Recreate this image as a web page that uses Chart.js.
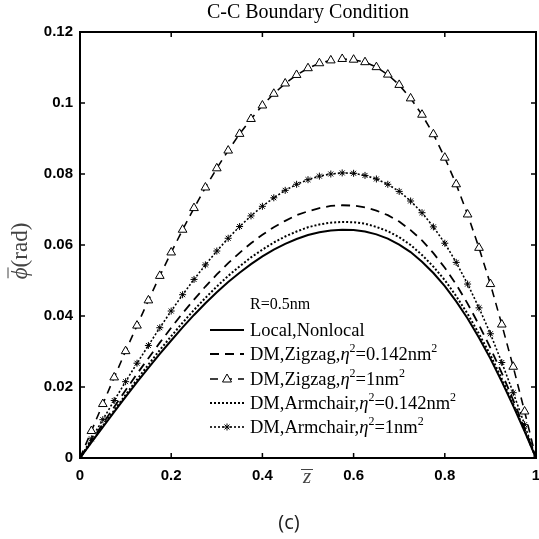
<!DOCTYPE html>
<html>
<head>
<meta charset="utf-8">
<script src="https://cdn.jsdelivr.net/npm/chart.js@4.4.0/dist/chart.umd.min.js"></script>
<style>
  html, body { margin: 0; padding: 0; background: #fff; }
</style>
</head>
<body>
<canvas id="chart" width="539" height="539"></canvas>
<script>
// z positions along the beam
const zValues = [0, 0.025, 0.05, 0.075, 0.1, 0.125, 0.15, 0.175, 0.2, 0.225, 0.25, 0.275, 0.3, 0.325, 0.35, 0.375,
  0.4, 0.425, 0.45, 0.475, 0.5, 0.525, 0.55, 0.575, 0.6, 0.625, 0.65, 0.675, 0.7, 0.725, 0.75, 0.775,
  0.8, 0.825, 0.85, 0.875, 0.9, 0.925, 0.95, 0.975, 1];

// rotation (rad)
const localNonlocal = [0, 0.0044, 0.0087, 0.0130, 0.0172, 0.0214, 0.0254, 0.0293, 0.0331, 0.0368, 0.0403, 0.0436, 0.0467, 0.0496, 0.0522, 0.0546,
  0.0568, 0.0587, 0.0603, 0.0617, 0.0628, 0.0636, 0.0641, 0.0643, 0.0642, 0.0638, 0.0630, 0.0618, 0.0601, 0.0580, 0.0553, 0.0521,
  0.0484, 0.0441, 0.0393, 0.0339, 0.0280, 0.0215, 0.0147, 0.0075, 0];
const zigzagSmall = [0, 0.0048, 0.0096, 0.0144, 0.0191, 0.0237, 0.0281, 0.0325, 0.0367, 0.0408, 0.0446, 0.0483, 0.0517, 0.0549, 0.0578, 0.0605,
  0.0629, 0.0650, 0.0668, 0.0684, 0.0695, 0.0704, 0.0710, 0.0712, 0.0711, 0.0706, 0.0697, 0.0684, 0.0666, 0.0642, 0.0613, 0.0577,
  0.0536, 0.0489, 0.0435, 0.0375, 0.0310, 0.0239, 0.0163, 0.0083, 0];
const zigzagLarge = [0, 0.0076, 0.0152, 0.0227, 0.0301, 0.0373, 0.0444, 0.0513, 0.0579, 0.0643, 0.0704, 0.0762, 0.0816, 0.0866, 0.0913, 0.0955,
  0.0993, 0.1026, 0.1055, 0.1079, 0.1098, 0.1112, 0.1120, 0.1124, 0.1122, 0.1115, 0.1101, 0.1080, 0.1051, 0.1013, 0.0967, 0.0912,
  0.0846, 0.0771, 0.0686, 0.0592, 0.0490, 0.0376, 0.0257, 0.0131, 0];
const armchairSmall = [0, 0.0045, 0.0090, 0.0134, 0.0178, 0.0221, 0.0263, 0.0304, 0.0343, 0.0381, 0.0417, 0.0451, 0.0483, 0.0513, 0.0540, 0.0565,
  0.0587, 0.0607, 0.0624, 0.0638, 0.0650, 0.0658, 0.0663, 0.0665, 0.0664, 0.0660, 0.0651, 0.0639, 0.0622, 0.0600, 0.0572, 0.0539,
  0.0501, 0.0456, 0.0406, 0.0350, 0.0290, 0.0223, 0.0152, 0.0078, 0];
const armchairLarge = [0, 0.0054, 0.0108, 0.0162, 0.0215, 0.0267, 0.0317, 0.0367, 0.0414, 0.0460, 0.0503, 0.0544, 0.0583, 0.0619, 0.0652, 0.0682,
  0.0709, 0.0733, 0.0754, 0.0771, 0.0784, 0.0794, 0.0800, 0.0803, 0.0802, 0.0796, 0.0786, 0.0771, 0.0751, 0.0724, 0.0691, 0.0651,
  0.0605, 0.0551, 0.0490, 0.0423, 0.0350, 0.0269, 0.0184, 0.0094, 0];

const xTicks = [0, 0.2, 0.4, 0.6, 0.8, 1];
const yTicks = [0, 0.02, 0.04, 0.06, 0.08, 0.1, 0.12];

const titleText = "C-C Boundary Condition";
const legendHeader = "R=0.5nm";
const legendLabels = [
  [{ t: "Local,Nonlocal" }],
  [{ t: "DM,Zigzag," }, { t: "\u03B7", i: true }, { t: "2", sup: true }, { t: "=0.142nm" }, { t: "2", sup: true }],
  [{ t: "DM,Zigzag," }, { t: "\u03B7", i: true }, { t: "2", sup: true }, { t: "=1nm" }, { t: "2", sup: true }],
  [{ t: "DM,Armchair," }, { t: "\u03B7", i: true }, { t: "2", sup: true }, { t: "=0.142nm" }, { t: "2", sup: true }],
  [{ t: "DM,Armchair," }, { t: "\u03B7", i: true }, { t: "2", sup: true }, { t: "=1nm" }, { t: "2", sup: true }]
];

const SERIF = "'Liberation Serif', 'DejaVu Serif', serif";

function toPoints(vals) {
  return zValues.map((z, i) => ({ x: z, y: vals[i] }));
}

function drawRich(ctx, parts, x, y, size) {
  let cx = x;
  parts.forEach((p) => {
    const fs = p.sup ? Math.round(size * 0.66) : size;
    ctx.font = (p.i ? "italic " : "") + fs + "px " + SERIF;
    const dy = p.sup ? -size * 0.42 : 0;
    ctx.fillText(p.t, cx, y + dy);
    cx += ctx.measureText(p.t).width;
  });
}

function drawMarker(ctx, style, x, y) {
  ctx.save();
  ctx.setLineDash([]);
  ctx.lineWidth = 1;
  ctx.strokeStyle = "#000";
  if (style === "triangle") {
    const r = 5;
    ctx.beginPath();
    ctx.moveTo(x, y - r);
    ctx.lineTo(x + r * 0.9, y + r * 0.6);
    ctx.lineTo(x - r * 0.9, y + r * 0.6);
    ctx.closePath();
    ctx.fillStyle = "#fff";
    ctx.fill();
    ctx.stroke();
  } else if (style === "star") {
    const r = 3.5;
    ctx.beginPath();
    for (let k = 0; k < 4; k++) {
      const a = (k * Math.PI) / 4;
      ctx.moveTo(x - r * Math.cos(a), y - r * Math.sin(a));
      ctx.lineTo(x + r * Math.cos(a), y + r * Math.sin(a));
    }
    ctx.stroke();
  }
  ctx.restore();
}

const decorations = {
  id: "decorations",
  afterDraw(chart) {
    const { ctx, chartArea: a, scales } = chart;
    ctx.save();

    // frame
    ctx.strokeStyle = "#000";
    ctx.lineWidth = 2;
    ctx.setLineDash([]);
    ctx.strokeRect(a.left, a.top, a.right - a.left, a.bottom - a.top);

    // inward ticks on all four sides
    ctx.lineWidth = 1.5;
    ctx.beginPath();
    xTicks.forEach((v) => {
      const px = scales.x.getPixelForValue(v);
      ctx.moveTo(px, a.bottom);
      ctx.lineTo(px, a.bottom - 5);
      ctx.moveTo(px, a.top);
      ctx.lineTo(px, a.top + 5);
    });
    yTicks.forEach((v) => {
      const py = scales.y.getPixelForValue(v);
      ctx.moveTo(a.left, py);
      ctx.lineTo(a.left + 5, py);
      ctx.moveTo(a.right, py);
      ctx.lineTo(a.right - 5, py);
    });
    ctx.stroke();

    // title
    ctx.fillStyle = "#000";
    ctx.font = "20px " + SERIF;
    ctx.textAlign = "center";
    ctx.textBaseline = "alphabetic";
    ctx.fillText(titleText, (a.left + a.right) / 2, 18);

    // x axis label (z with bar)
    ctx.fillStyle = "#444";
    ctx.strokeStyle = "#444";
    ctx.font = "italic 21px " + SERIF;
    ctx.textAlign = "center";
    ctx.fillText("z", 307, 483);
    ctx.lineWidth = 1;
    ctx.beginPath();
    ctx.moveTo(301, 469.5);
    ctx.lineTo(313, 469.5);
    ctx.stroke();

    // y axis label (phi with bar)(rad)
    ctx.save();
    ctx.translate(27, 251);
    ctx.rotate(-Math.PI / 2);
    ctx.textAlign = "left";
    ctx.font = "italic 23px " + SERIF;
    const phiW = ctx.measureText("\u03D5").width;
    ctx.font = "23px " + SERIF;
    const radW = ctx.measureText("(rad)").width;
    const startX = -(phiW + radW) / 2;
    ctx.font = "italic 23px " + SERIF;
    ctx.fillText("\u03D5", startX, 0);
    ctx.beginPath();
    ctx.moveTo(startX + 1, -19);
    ctx.lineTo(startX + phiW, -19);
    ctx.stroke();
    ctx.font = "23px " + SERIF;
    ctx.fillText("(rad)", startX + phiW, 0);
    ctx.restore();

    // panel caption
    ctx.fillStyle = "#222";
    ctx.font = "20px 'Open Sans', 'Liberation Sans', sans-serif";
    ctx.textAlign = "center";
    ctx.fillText("(c)", 289, 529);

    // legend
    ctx.fillStyle = "#000";
    ctx.textAlign = "left";
    ctx.font = "16px " + SERIF;
    ctx.fillText(legendHeader, 250, 309);
    const rowBase = [336, 360, 385, 409, 433];
    chart.data.datasets.forEach((ds, i) => {
      const b = rowBase[i];
      const ly = b - 6;
      ctx.save();
      ctx.strokeStyle = "#000";
      ctx.lineWidth = ds.borderWidth;
      ctx.setLineDash(ds.borderDash || []);
      ctx.beginPath();
      ctx.moveTo(210, ly);
      ctx.lineTo(244, ly);
      ctx.stroke();
      ctx.restore();
      if (ds.pointRadius > 0) drawMarker(ctx, ds.pointStyle, 227, ly);
      ctx.fillStyle = "#000";
      drawRich(ctx, legendLabels[i], 250, b, 18.5);
    });

    ctx.restore();
  }
};

const ctx = document.getElementById("chart").getContext("2d");

new Chart(ctx, {
  type: "line",
  data: {
    datasets: [
      {
        label: "Local,Nonlocal",
        data: toPoints(localNonlocal),
        borderColor: "#000",
        borderWidth: 2,
        pointRadius: 0
      },
      {
        label: "DM,Zigzag,0.142",
        data: toPoints(zigzagSmall),
        borderColor: "#000",
        borderWidth: 1.8,
        borderDash: [9, 6],
        pointRadius: 0
      },
      {
        label: "DM,Zigzag,1",
        data: toPoints(zigzagLarge),
        borderColor: "#000",
        borderWidth: 1.6,
        borderDash: [8, 6],
        pointStyle: "triangle",
        pointRadius: 5,
        pointBackgroundColor: "#fff",
        pointBorderColor: "#000",
        pointBorderWidth: 1
      },
      {
        label: "DM,Armchair,0.142",
        data: toPoints(armchairSmall),
        borderColor: "#000",
        borderWidth: 2,
        borderDash: [2, 2],
        pointRadius: 0
      },
      {
        label: "DM,Armchair,1",
        data: toPoints(armchairLarge),
        borderColor: "#000",
        borderWidth: 1.6,
        borderDash: [2, 2],
        pointStyle: "star",
        pointRadius: 3.5,
        pointBorderColor: "#000",
        pointBorderWidth: 1
      }
    ]
  },
  options: {
    responsive: false,
    animation: false,
    layout: { autoPadding: false, padding: { top: 32, right: 3, left: 0, bottom: 0 } },
    plugins: {
      legend: { display: false },
      tooltip: { enabled: false }
    },
    scales: {
      x: {
        type: "linear",
        min: 0,
        max: 1,
        grid: { display: false, drawTicks: false },
        border: { display: false },
        afterBuildTicks: (s) => { s.ticks = xTicks.map((v) => ({ value: v })); },
        afterFit: (s) => { s.height = 81; s.paddingRight = 0; s.paddingLeft = 0; },
        ticks: {
          padding: 9,
          color: "#000",
          autoSkip: false,
          maxRotation: 0,
          font: { family: "'Liberation Sans', Arial, sans-serif", weight: "bold", size: 15 },
          callback: (v) => String(v)
        }
      },
      y: {
        type: "linear",
        min: 0,
        max: 0.12,
        grid: { display: false, drawTicks: false },
        border: { display: false },
        afterBuildTicks: (s) => { s.ticks = yTicks.map((v) => ({ value: v })); },
        afterFit: (s) => { s.width = 80; },
        ticks: {
          padding: 7,
          color: "#000",
          autoSkip: false,
          font: { family: "'Liberation Sans', Arial, sans-serif", weight: "bold", size: 15 },
          callback: (v) => String(v)
        }
      }
    }
  },
  plugins: [decorations]
});
</script>
</body>
</html>
